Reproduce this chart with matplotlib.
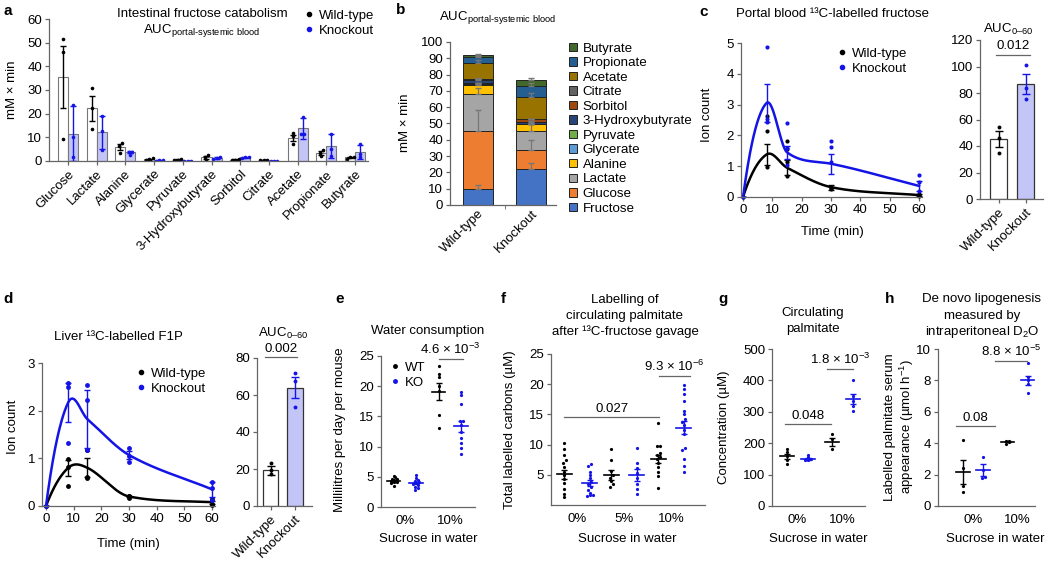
import numpy as np
import matplotlib.pyplot as plt
from matplotlib.lines import Line2D

plt.rcParams['font.family'] = ['Liberation Sans', 'DejaVu Sans']
plt.rcParams['mathtext.fontset'] = 'custom'
plt.rcParams['mathtext.rm'] = 'Liberation Sans'
plt.rcParams['mathtext.it'] = 'Liberation Sans:italic'
plt.rcParams['mathtext.bf'] = 'Liberation Sans:bold'
plt.rcParams['font.size'] = 9.5
plt.rcParams['axes.linewidth'] = 0.9

FS = 9.5

# ---------------- data ----------------
# panel a / b : AUC portal-systemic blood (mM x min)
metabolites = ['Glucose', 'Lactate', 'Alanine', 'Glycerate', 'Pyruvate', '3-Hydroxybutyrate',
               'Sorbitol', 'Citrate', 'Acetate', 'Propionate', 'Butyrate']
a_wt_mean = [35.5, 22.3, 5.8, 0.8, 0.6, 1.5, 0.6, 0.5, 9.8, 3.3, 1.5]
a_ko_mean = [11.6, 12.1, 3.8, 0.3, 0.1, 1.2, 1.5, 0.1, 13.8, 6.2, 3.8]
a_wt_err = [13.3, 5.2, 1.2, 0.2, 0.15, 0.6, 0.15, 0.1, 1.3, 0.9, 0.3]
a_ko_err = [11.5, 7.0, 0.5, 0.1, 0.05, 0.3, 0.3, 0.05, 4.5, 5.0, 3.0]
a_wt_pts = [[51.5, 46, 9.5], [31, 22.5, 13.5], [7.5, 6.5, 3.5], [1.2, 0.8, 0.5], [0.8, 0.6, 0.4],
            [2.5, 1.8, 0.4], [0.8, 0.6, 0.4], [0.6, 0.5, 0.4], [11.8, 10.5, 7.2], [4.5, 3.5, 2.0],
            [1.9, 1.5, 1.0]]
a_ko_pts = [[23.5, 10, 1.5], [19, 12.5, 4.8], [4, 3.8, 2.5], [0.4, 0.3, 0.2], [0.15, 0.1, 0.05],
            [1.5, 1.2, 0.9], [1.8, 1.5, 1.2], [0.15, 0.1, 0.05], [18.5, 11.5, 11.5], [11.5, 5, 2],
            [7, 3, 1.5]]

b_names = ['Fructose'] + metabolites
b_wt = [10.0] + a_wt_mean
b_ko = [22.0] + a_ko_mean
b_wt_err = [2.5, 13.0, 4.0, 1.0, 0.2, 0.1, 0.6, 0.2, 0.1, 1.5, 0.6, 0.3]
b_ko_err = [4.0, 6.0, 6.0, 0.6, 0.1, 0.05, 0.4, 0.4, 0.05, 2.5, 2.0, 1.5]
b_colors = ['#4472c4', '#ed7d31', '#a5a5a5', '#ffc000', '#5b9bd5', '#70ad47', '#264478',
            '#9e480e', '#636363', '#997300', '#255e91', '#43682b']

# panel c : portal blood 13C fructose
c_time = [0, 8, 15, 30, 60]
c_wt_mean = [0, 1.38, 0.95, 0.32, 0.06]
c_ko_mean = [0, 3.05, 1.45, 1.08, 0.36]
c_wt_sem = [0, 0.33, 0.25, 0.08, 0.03]
c_ko_sem = [0, 0.63, 0.22, 0.32, 0.15]
c_wt_pts = [[0], [2.62, 2.15, 0.98], [1.82, 1.55, 1.15, 0.68], [0.33, 0.28, 0.25], [0.1, 0.05, 0.02]]
c_ko_pts = [[0], [4.87, 2.52, 2.45], [2.4, 1.6, 1.05], [1.82, 1.62, 1.15], [0.7, 0.5, 0.2]]
c_auc_mean = [45, 86.5]
c_auc_sem = [6, 7.5]
c_auc_pts = [[54.5, 46, 34.5], [101, 84, 75.5]]

# panel d : liver 13C F1P
d_time = [0, 8, 15, 30, 60]
d_wt_mean = [0, 0.8, 0.8, 0.2, 0.08]
d_ko_mean = [0, 2.17, 1.82, 1.07, 0.35]
d_wt_sem = [0, 0.17, 0.2, 0.02, 0.03]
d_ko_sem = [0, 0.4, 0.61, 0.08, 0.16]
d_wt_pts = [[0], [0.98, 0.82, 0.43], [1.18, 0.6, 0.58], [0.22, 0.2, 0.17], [0.15, 0.05, 0.02]]
d_ko_pts = [[0], [2.57, 2.5, 1.33], [2.53, 2.23, 1.18], [1.22, 1.05, 0.93], [0.5, 0.37, 0.12]]
d_auc_mean = [19.3, 64]
d_auc_sem = [2.5, 5.8]
d_auc_pts = [[23.5, 19.5, 17.5], [72, 67.5, 53.5]]

# panel e : water consumption
e_labels = ['0%', '10%']
e_pts = [[5.1, 4.9, 4.7, 4.6, 4.4, 4.3, 4.2, 4.1, 3.9, 3.5],
         [5.3, 4.8, 4.5, 4.3, 4.1, 4.0, 3.8, 3.6, 3.3, 3.1, 2.8],
         [23.3, 22.0, 21.6, 20.0, 19.2, 15.3, 13.0],
         [19.1, 18.6, 17.0, 14.3, 14.2, 13.6, 12.4, 11.5, 10.6, 9.8, 8.7]]
e_mean = [4.3, 3.95, 19.1, 13.4]
e_sem = [0.15, 0.22, 1.4, 0.9]

# panel f : labelled palmitate
f_labels = ['0%', '5%', '10%']
f_pts = [[10.2, 9.2, 8.3, 7.4, 7.0, 6.3, 5.5, 5.0, 4.3, 3.7, 2.6, 1.8, 1.3],
         [6.8, 6.4, 5.5, 5.0, 4.4, 3.8, 3.4, 2.9, 2.5, 2.0, 1.6, 1.6, 1.5],
         [9.2, 7.5, 5.7, 4.9, 4.5, 3.9, 3.4, 3.0],
         [9.4, 7.0, 6.2, 5.3, 4.5, 3.4, 2.7, 1.8],
         [13.5, 9.8, 9.8, 8.6, 8.3, 7.9, 7.6, 7.0, 6.3, 5.5, 4.8, 2.8],
         [19.9, 19.2, 18.3, 17.2, 15.5, 15.0, 14.2, 13.8, 13.2, 12.5, 11.8, 9.4, 9.1, 7.6, 6.5, 5.4]]
f_mean = [5.1, 3.6, 5.0, 4.9, 7.6, 12.8]
f_sem = [0.75, 0.5, 0.8, 1.0, 0.7, 1.1]

# panel g : circulating palmitate
g_labels = ['0%', '10%']
g_pts = [[182, 172, 158, 145, 135], [163, 156, 150, 148, 146], [228, 212, 183],
         [400, 350, 335, 318, 302]]
g_mean = [158, 150, 205, 340]
g_sem = [8, 3, 13, 16]

# panel h : DNL by D2O
h_labels = ['0%', '10%']
h_pts = [[4.2, 2.4, 1.3, 0.9], [3.15, 2.3, 1.85, 1.8], [4.15, 4.12, 4.08, 3.95],
         [9.1, 8.2, 8.0, 7.8, 7.2]]
h_mean = [2.15, 2.3, 4.1, 8.0]
h_sem = [0.75, 0.4, 0.05, 0.3]

# ---------------- helpers ----------------
W, H = 1050, 567
BLUE = '#1414e6'
GRAY = '#666666'
KOFILL = '#c3c5f7'
fig = plt.figure(figsize=(W / 100, H / 100), dpi=100)


def add_ax(x0, y0, x1, y1):
    ax = fig.add_axes([x0 / W, 1 - y1 / H, (x1 - x0) / W, (y1 - y0) / H])
    for s in ['top', 'right']:
        ax.spines[s].set_visible(False)
    for s in ['left', 'bottom']:
        ax.spines[s].set_color(GRAY)
    ax.tick_params(colors=GRAY, labelcolor='black', length=3, width=0.9, labelsize=FS, pad=2)
    ax.set_facecolor('none')
    return ax


def ftext(x, y, s, **kw):
    kw.setdefault('ha', 'center')
    kw.setdefault('va', 'center')
    kw.setdefault('fontsize', FS)
    fig.text(x / W, 1 - y / H, s, **kw)


def swarm(vals, center, dx, ytol):
    vals = np.asarray(vals, float)
    xs = np.full(len(vals), float(center))
    order = np.argsort(vals)
    cur = [order[0]]
    grp = []
    for i in order[1:]:
        if vals[i] - vals[cur[0]] < ytol:
            cur.append(i)
        else:
            grp.append(cur)
            cur = [i]
    grp.append(cur)
    for g in grp:
        n = len(g)
        for k, idx in enumerate(g):
            xs[idx] = center + (k - (n - 1) / 2) * dx
    return xs


def smooth_curve(x, y, n=300):
    # cubic Hermite through the means: Catmull-Rom slopes, limited per segment
    # (Fritsch-Carlson circle) so that no segment overshoots, humps stay round
    x = np.asarray(x, float)
    y = np.asarray(y, float)
    h = np.diff(x)
    dl = np.diff(y) / h
    m = np.zeros(len(x))
    for i in range(1, len(x) - 1):
        m[i] = (y[i + 1] - y[i - 1]) / (x[i + 1] - x[i - 1])
    m[0] = ((2 * h[0] + h[1]) * dl[0] - h[0] * dl[1]) / (h[0] + h[1])
    m[-1] = dl[-1]
    for k in range(len(h)):
        if dl[k] == 0:
            continue
        for j in (k, k + 1):
            if m[j] * dl[k] < 0:
                prev = dl[j - 1] if 0 < j else dl[k]
                nxt = dl[j] if j < len(h) else dl[k]
                if prev * nxt > 0:
                    m[j] = 0.0
        a = m[k] / dl[k]
        b = m[k + 1] / dl[k]
        r = a * a + b * b
        if a > 0 and b > 0 and r > 9:
            tau = 3 / np.sqrt(r)
            m[k] = tau * a * dl[k]
            m[k + 1] = tau * b * dl[k]
    xx = np.linspace(x[0], x[-1], n)
    k = np.clip(np.searchsorted(x, xx) - 1, 0, len(x) - 2)
    t = (xx - x[k]) / h[k]
    h00 = 2 * t ** 3 - 3 * t ** 2 + 1
    h10 = t ** 3 - 2 * t ** 2 + t
    h01 = -2 * t ** 3 + 3 * t ** 2
    h11 = t ** 3 - t ** 2
    yy = h00 * y[k] + h10 * h[k] * m[k] + h01 * y[k + 1] + h11 * h[k] * m[k + 1]
    return xx, yy


def dot_legend(x, y, labels, colors, ms=3):
    handles = [Line2D([], [], ls='none', marker='o', ms=ms, color=c) for c in colors]
    fig.legend(handles, labels, loc='upper left', bbox_to_anchor=(x / W, 1 - y / H),
               frameon=False, handlelength=0.6, handletextpad=0.5, borderpad=0,
               labelspacing=0.2, fontsize=FS)


def sig(ax, x0, x1, y, s):
    ax.plot([x0, x1], [y, y], color=GRAY, lw=0.9, clip_on=False)
    ax.annotate(s, ((x0 + x1) / 2, y), xytext=(0, 1.5), textcoords='offset points',
                ha='center', va='bottom', fontsize=FS, annotation_clip=False)


def scatter_panel(ax, pts, mean, sem, xpos, dx, ytol, half=0.13):
    for i, (p, m, s, x) in enumerate(zip(pts, mean, sem, xpos)):
        col = 'black' if i % 2 == 0 else BLUE
        ax.plot(swarm(p, x, dx, ytol), p, 'o', ms=2.3, color=col, mec='none', clip_on=False)
        ax.plot([x - half, x + half], [m, m], color=col, lw=1.2)
        ax.errorbar([x], [m], yerr=[s], color=col, lw=1.0, capsize=2.5, capthick=1.0)


def auc_inset(ax, mean, sem, pts, dx, ytol):
    for i in range(2):
        col = 'black' if i == 0 else BLUE
        ax.bar(i, mean[i], width=0.63, color=['white', KOFILL][i], edgecolor='#333333', lw=0.9)
        ax.errorbar([i], [mean[i]], yerr=[sem[i]], color=col, lw=1.0, capsize=3, capthick=1.0)
        ax.plot(swarm(pts[i], i, dx, ytol), pts[i], 'o', ms=2.8, color=col, mec='none')
    ax.set_xticks([0, 1])
    ax.set_xticklabels(['Wild-type', 'Knockout'], rotation=45, ha='right', rotation_mode='anchor')


def time_panel(ax, t, series):
    for mean, sem, pts, col, ms in series:
        xx, yy = smooth_curve(t, mean)
        ax.plot(xx, yy, color=col, lw=1.8)
        ax.errorbar(t, mean, yerr=sem, fmt='none', ecolor=col, lw=1.0, capsize=2.5)
        for ti, p in zip(t, pts):
            ax.plot([ti] * len(p), p, 'o', ms=ms, color=col, mec='none', clip_on=False)


# ---------------- panel a ----------------
ax = add_ax(49, 19, 368, 161)
xa = np.arange(len(metabolites))
bw = 0.35
ax.bar(xa - bw / 2, a_wt_mean, width=bw, color='white', edgecolor='#777777', lw=0.8)
ax.bar(xa + bw / 2, a_ko_mean, width=bw, color=KOFILL, edgecolor='#777777', lw=0.8)
ax.errorbar(xa - bw / 2, a_wt_mean, yerr=a_wt_err, fmt='none', ecolor='black', lw=1.0, capsize=2.5)
ax.errorbar(xa + bw / 2, a_ko_mean, yerr=a_ko_err, fmt='none', ecolor=BLUE, lw=1.0, capsize=2.5)
for i in range(len(metabolites)):
    ax.plot(swarm(a_wt_pts[i], xa[i] - bw / 2, 0.12, 1.2), a_wt_pts[i], 'o', ms=2.6,
            color='black', mec='none')
    ax.plot(swarm(a_ko_pts[i], xa[i] + bw / 2, 0.12, 1.2), a_ko_pts[i], 'o', ms=2.6,
            color=BLUE, mec='none')
ax.set_xlim(-0.66, 10.45)
ax.set_ylim(0, 60)
ax.set_yticks(range(0, 61, 10))
ax.set_xticks(xa)
ax.set_xticklabels(metabolites, rotation=45, ha='right', rotation_mode='anchor')
ftext(8, 11, 'a', fontweight='bold', fontsize=11)
ftext(202, 14, 'Intestinal fructose catabolism')
ftext(202, 31, r'AUC$_{\text{portal-systemic blood}}$')
ftext(12, 90, 'mM × min', rotation=90)
dot_legend(298, 3, ['Wild-type', 'Knockout'], ['black', BLUE])

# ---------------- panel b ----------------
ax = add_ax(450, 42, 556, 205)
bottom = np.zeros(2)
for name, wv, kv, we, ke, col in zip(b_names, b_wt, b_ko, b_wt_err, b_ko_err, b_colors):
    vals = np.array([wv, kv])
    ax.bar([0, 1], vals, bottom=bottom, width=0.57, color=col, edgecolor='#222222', lw=0.7,
           label=name)
    ax.errorbar([0, 1], bottom + vals, yerr=[[0, 0], [we, ke]], fmt='none', ecolor='#777777',
                lw=0.9, capsize=2.5)
    bottom = bottom + vals
ax.set_xlim(-0.53, 1.47)
ax.set_ylim(0, 100)
ax.set_yticks(range(0, 101, 10))
ax.set_xticks([0, 1])
ax.set_xticklabels(['Wild-type', 'Knockout'], rotation=45, ha='right', rotation_mode='anchor')
ax.tick_params(axis='x', length=0)
ax.set_xticks([0.5], minor=True)
ax.tick_params(axis='x', which='minor', length=3, color=GRAY)
h_, l_ = ax.get_legend_handles_labels()
fig.legend(h_[::-1], l_[::-1], loc='upper left', bbox_to_anchor=(562 / W, 1 - 36 / H),
           frameon=False, handlelength=0.6, handleheight=0.6, handletextpad=0.45,
           borderpad=0, labelspacing=0.19, fontsize=9.6)
ftext(401, 10, 'b', fontweight='bold', fontsize=11)
ftext(498, 18, r'AUC$_{\text{portal-systemic blood}}$')
ftext(405, 123, 'mM × min', rotation=90)

# ---------------- panel c ----------------
ax = add_ax(741, 43, 922, 197)
time_panel(ax, c_time, [(c_wt_mean, c_wt_sem, c_wt_pts, 'black', 3),
                        (c_ko_mean, c_ko_sem, c_ko_pts, BLUE, 3)])
ax.set_xlim(-0.7, 61)
ax.set_ylim(0, 5)
ax.set_xticks(range(0, 61, 10))
ax.set_yticks(range(0, 6))
ftext(704, 12, 'c', fontweight='bold', fontsize=11)
ftext(833, 14, 'Portal blood ¹³C-labelled fructose')
ftext(707, 115, 'Ion count', rotation=90)
ftext(832, 232, 'Time (min)')
dot_legend(831, 41, ['Wild-type', 'Knockout'], ['black', BLUE])

ax = add_ax(980, 40, 1043, 199)
auc_inset(ax, c_auc_mean, c_auc_sem, c_auc_pts, 0.0, 3)
ax.set_xlim(-0.7, 1.63)
ax.set_ylim(0, 120)
ax.set_yticks(range(0, 121, 20))
sig(ax, -0.1, 1.15, 109, '0.012')
ftext(1008, 29, r'AUC$_{\text{0–60}}$')

# ---------------- panel d ----------------
ax = add_ax(42, 363, 215, 506)
time_panel(ax, d_time, [(d_wt_mean, d_wt_sem, d_wt_pts, 'black', 3.5),
                        (d_ko_mean, d_ko_sem, d_ko_pts, BLUE, 3.5)])
ax.set_xlim(-1.45, 61.1)
ax.set_ylim(0, 3)
ax.set_xticks(range(0, 61, 10))
ax.set_yticks(range(0, 4))
ftext(8, 299, 'd', fontweight='bold', fontsize=11)
ftext(118, 337, 'Liver ¹³C-labelled F1P')
ftext(13, 427, 'Ion count', rotation=90)
ftext(128, 544, 'Time (min)')
dot_legend(130, 361, ['Wild-type', 'Knockout'], ['black', BLUE])

ax = add_ax(257, 358, 312, 506)
auc_inset(ax, d_auc_mean, d_auc_sem, d_auc_pts, 0.0, 2)
ax.set_xlim(-0.58, 1.71)
ax.set_ylim(0, 80)
ax.set_yticks(range(0, 81, 20))
sig(ax, -0.25, 1.1, 80.5, '0.002')
ftext(283, 333, r'AUC$_{\text{0–60}}$')

# ---------------- panel e ----------------
ax = add_ax(381, 356, 475, 507)
xe = [0 - 0.25, 0 + 0.25, 1 - 0.25, 1 + 0.25]
scatter_panel(ax, e_pts, e_mean, e_sem, xe, 0.07, 0.35, half=0.15)
ax.set_xlim(-0.533, 1.556)
ax.set_ylim(0, 25)
ax.set_yticks(range(0, 26, 5))
ax.set_xticks([0, 1])
ax.set_xticklabels(e_labels)
ax.tick_params(axis='x', length=0, pad=6)
sig(ax, 0.75, 1.28, 24.5, r'4.6 × 10$^{-3}$')
ftext(340, 299, 'e', fontweight='bold', fontsize=11)
ftext(428, 331, 'Water consumption')
ftext(340, 430, 'Millilitres per day per mouse', rotation=90)
ftext(428, 539, 'Sucrose in water')
dot_legend(384, 355, ['WT', 'KO'], ['black', BLUE], ms=2.5)

# ---------------- panel f ----------------
ax = add_ax(551, 354, 705, 505)
xf = [0 - 0.27, 0 + 0.27, 1 - 0.27, 1 + 0.27, 2 - 0.27, 2 + 0.27]
scatter_panel(ax, f_pts, f_mean, f_sem, xf, 0.065, 0.45, half=0.16)
ax.set_xlim(-0.553, 2.72)
ax.set_ylim(0, 25)
ax.set_yticks(range(5, 26, 5))
ax.set_xticks([0, 1, 2])
ax.set_xticklabels(f_labels)
ax.tick_params(axis='x', length=0, pad=6)
sig(ax, -0.27, 1.75, 14.6, '0.027')
sig(ax, 1.75, 2.4, 21.4, r'9.3 × 10$^{-6}$')
ftext(503, 299, 'f', fontweight='bold', fontsize=11)
ftext(625, 300, 'Labelling of')
ftext(625, 316, 'circulating palmitate')
ftext(625, 332, 'after ¹³C-fructose gavage')
ftext(510, 430, 'Total labelled carbons (µM)', rotation=90)
ftext(627, 539, 'Sucrose in water')

# ---------------- panel g ----------------
ax = add_ax(772, 349, 865, 506)
xg = [0 - 0.233, 0 + 0.233, 1 - 0.233, 1 + 0.233]
scatter_panel(ax, g_pts, g_mean, g_sem, xg, 0.07, 7, half=0.15)
ax.set_xlim(-0.567, 1.5)
ax.set_ylim(0, 500)
ax.set_yticks(range(0, 501, 100))
ax.set_xticks([0, 1])
ax.set_xticklabels(g_labels)
ax.tick_params(axis='x', length=0, pad=6)
sig(ax, -0.28, 0.75, 261, '0.048')
sig(ax, 0.66, 1.23, 436, r'1.8 × 10$^{-3}$')
ftext(723, 299, 'g', fontweight='bold', fontsize=11)
ftext(813, 313, 'Circulating')
ftext(813, 329, 'palmitate')
ftext(724, 427, 'Concentration (µM)', rotation=90)
ftext(818, 539, 'Sucrose in water')

# ---------------- panel h ----------------
ax = add_ax(938, 349, 1035, 506)
xh = [0 - 0.225, 0 + 0.225, 1 - 0.225, 1 + 0.225]
scatter_panel(ax, h_pts, h_mean, h_sem, xh, 0.07, 0.15, half=0.15)
ax.set_xlim(-0.787, 1.39)
ax.set_ylim(0, 10)
ax.set_yticks(range(0, 11, 2))
ax.set_xticks([0, 1])
ax.set_xticklabels(h_labels)
ax.tick_params(axis='x', length=0, pad=6)
sig(ax, -0.38, 0.5, 5.1, '0.08')
sig(ax, 0.5, 1.22, 9.24, r'8.8 × 10$^{-5}$')
ftext(890, 299, 'h', fontweight='bold', fontsize=11)
ftext(982, 299, 'De novo lipogenesis')
ftext(982, 316, 'measured by')
ftext(982, 332, r'intraperitoneal D$_2$O')
ftext(900, 427, 'Labelled palmitate serum\nappearance (µmol h$^{-1}$)', rotation=90,
      linespacing=1.1)
ftext(995, 539, 'Sucrose in water')

fig.savefig('out.png', dpi=100)
